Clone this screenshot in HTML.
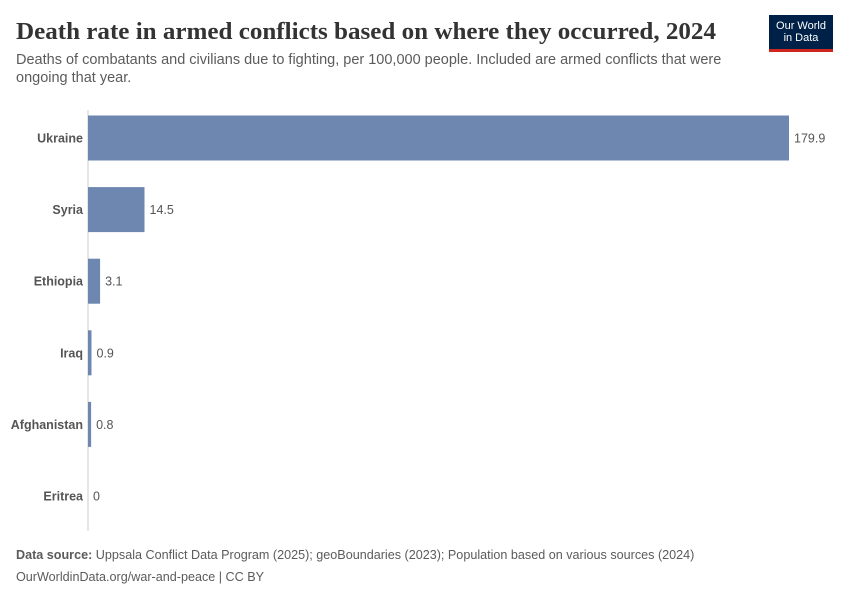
<!DOCTYPE html>
<html><head><meta charset="utf-8"><style>
body{margin:0;width:850px;height:600px;background:#fff;font-family:"Liberation Sans",sans-serif;overflow:hidden;position:relative}
.abs{position:absolute}
</style></head><body>
<svg class="abs" style="left:0;top:0" width="760" height="50"><text x="16" y="39" font-family="Liberation Serif, serif" font-size="24" font-weight="bold" fill="#333" textLength="700" lengthAdjust="spacingAndGlyphs">Death rate in armed conflicts based on where they occurred, 2024</text></svg>
<div class="abs" style="left:16px;top:51px;width:740px;font-size:14.5px;line-height:18px;color:#5b5b5b">Deaths of combatants and civilians due to fighting, per 100,000 people. Included are armed conflicts that were ongoing that year.</div>
<div class="abs" style="left:769px;top:15px;width:64px;height:37px;background:#002147;border-bottom:3px solid #ce261e;box-sizing:border-box;color:#fff;font-size:11px;line-height:12px;text-align:center;padding-top:5px">Our World<br>in Data</div>
<svg class="abs" style="left:0;top:0" width="850" height="600" id="chart"></svg>
<div class="abs" style="left:16px;top:548px;font-size:12.6px;color:#5b5b5b"><b>Data source:</b> Uppsala Conflict Data Program (2025); geoBoundaries (2023); Population based on various sources (2024)</div>
<div class="abs" style="left:16px;top:570px;font-size:12.6px;color:#5b5b5b">OurWorldinData.org/war-and-peace | CC BY</div>
<script>
const categories=["Ukraine","Syria","Ethiopia","Iraq","Afghanistan","Eritrea"];
const values=[179.9,14.5,3.1,0.9,0.8,0];
const labels=["179.9","14.5","3.1","0.9","0.8","0"];
const svg=document.getElementById('chart');
const NS='http://www.w3.org/2000/svg';
const x0=88,pxPer=(789-88)/179.9;
function xs(v){return x0+v*pxPer;}
function yc(i){return 138+i*71.6;}
const bh=45;
const ax=document.createElementNS(NS,'line');


ax.setAttribute('x1',x0);ax.setAttribute('x2',x0);ax.setAttribute('y1',110);ax.setAttribute('y2',531);
ax.setAttribute('stroke','#ccc');svg.appendChild(ax);
categories.forEach((c,i)=>{
 const y=yc(i);
 const t=document.createElementNS(NS,'text');
 
 
 t.setAttribute('x',83);t.setAttribute('y',y+4.5);t.setAttribute('text-anchor','end');
 t.setAttribute('font-size','12.5');t.setAttribute('font-weight','bold');t.setAttribute('fill','#555');
 t.textContent=c;svg.appendChild(t);
 const w=Math.max(xs(values[i])-x0,0);
 if(values[i]>0){
  const r=document.createElementNS(NS,'rect');
  
  
  r.setAttribute('x',x0);r.setAttribute('y',y-bh/2);r.setAttribute('width',Math.max(w,3));r.setAttribute('height',bh);
  r.setAttribute('fill','#6d87b0');svg.appendChild(r);
 }
 const v=document.createElementNS(NS,'text');
 
 
 v.setAttribute('x',x0+Math.max(w,values[i]>0?3:0)+5);v.setAttribute('y',y+4.5);
 v.setAttribute('font-size','12.5');v.setAttribute('fill','#555');
 v.textContent=labels[i];svg.appendChild(v);
});
</script>
</body></html>
